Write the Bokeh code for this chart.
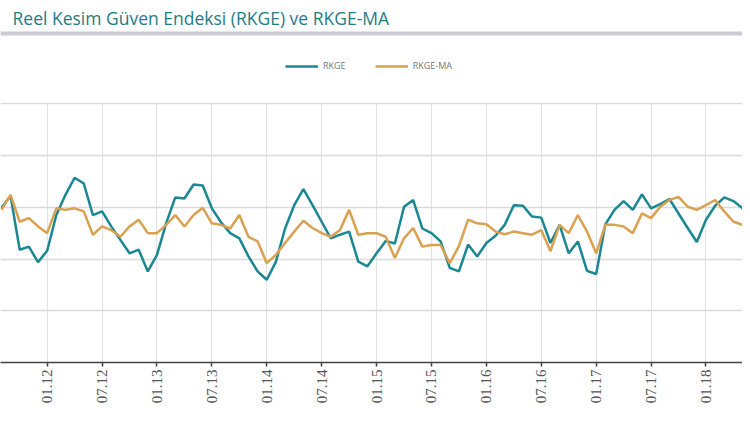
import math
import numpy as np
from bokeh.plotting import figure
from bokeh.models import Range1d, FixedTicker, Legend, LegendItem, Label, Span
from bokeh.layouts import column
from bokeh.embed import file_html
from bokeh.resources import INLINE

# ---- data ----
months = ["08.11", "09.11", "10.11", "11.11", "12.11",
          "01.12", "02.12", "03.12", "04.12", "05.12", "06.12", "07.12", "08.12", "09.12", "10.12", "11.12", "12.12",
          "01.13", "02.13", "03.13", "04.13", "05.13", "06.13", "07.13", "08.13", "09.13", "10.13", "11.13", "12.13",
          "01.14", "02.14", "03.14", "04.14", "05.14", "06.14", "07.14", "08.14", "09.14", "10.14", "11.14", "12.14",
          "01.15", "02.15", "03.15", "04.15", "05.15", "06.15", "07.15", "08.15", "09.15", "10.15", "11.15", "12.15",
          "01.16", "02.16", "03.16", "04.16", "05.16", "06.16", "07.16", "08.16", "09.16", "10.16", "11.16", "12.16",
          "01.17", "02.17", "03.17", "04.17", "05.17", "06.17", "07.17", "08.17", "09.17", "10.17", "11.17", "12.17",
          "01.18", "02.18", "03.18", "04.18", "05.18", "06.18"]

rkge = [109.9, 112.2, 101.8, 102.4, 99.4,
        101.6, 108.5, 112.4, 115.7, 114.6, 108.5, 109.2, 106.3, 103.7, 101.1, 101.8, 97.6,
        100.8, 106.9, 111.9, 111.7, 114.4, 114.2, 109.8, 107.1, 105.0, 104.0, 100.5, 97.6,
        96.0, 99.5, 105.9, 110.4, 113.5, 110.4, 107.2, 104.0, 104.7, 105.3, 99.5, 98.6,
        101.1, 103.5, 103.0, 110.1, 111.4, 105.9, 105.0, 103.4, 98.3, 97.6, 102.8, 100.5,
        103.1, 104.5, 106.6, 110.4, 110.3, 108.2, 108.0, 103.1, 106.6, 101.1, 103.4, 97.7,
        97.1, 106.7, 109.5, 111.2, 109.5, 112.5, 109.8, 110.6, 111.6, 108.8, 106.0, 103.3,
        107.6, 110.3, 111.9, 111.2, 109.8, 105.3]

rkge_ma = [109.5, 112.4, 107.2, 107.9, 106.3,
           105.0, 109.8, 109.5, 109.8, 109.2, 104.7, 106.3, 105.6, 104.3, 106.3, 107.6, 105.0,
           105.0, 106.6, 108.5, 106.3, 108.5, 109.9, 106.9, 106.6, 105.9, 108.5, 104.3, 103.4,
           99.2, 100.8, 103.1, 105.3, 107.4, 106.0, 105.0, 104.3, 105.6, 109.5, 104.7, 105.0,
           105.0, 104.3, 100.2, 104.0, 106.0, 102.4, 102.7, 102.7, 99.2, 102.5, 107.6, 106.9,
           106.7, 105.3, 104.8, 105.3, 105.0, 104.7, 105.6, 101.5, 106.6, 105.0, 108.5, 105.3,
           101.1, 106.6, 106.6, 106.3, 105.0, 108.8, 107.9, 110.1, 111.4, 112.0, 110.1, 109.5,
           110.4, 111.4, 109.2, 107.2, 106.6, 103.1]

tick_labels = ["01.12", "07.12", "01.13", "07.13", "01.14", "07.14", "01.15",
               "07.15", "01.16", "07.16", "01.17", "07.17", "01.18"]
y_grid_values = [90, 100, 110, 120, 130]
series_names = ["RKGE", "RKGE-MA"]
title_text = "Reel Kesim Güven Endeksi (RKGE) ve RKGE-MA"


def month_index(s):
    mm, yy = s.split(".")
    return (int(yy) - 12) * 12 + int(mm) - 1


x = [month_index(s) for s in months]
tick_x = [month_index(s) for s in tick_labels]

TEAL = "#1a8793"
ORANGE = "#d9a150"
W = 742
HEAD_H = 102
MAIN_H = 406 - HEAD_H

# ---------- header: title, rule and legend ----------
h = figure(width=W, height=HEAD_H, x_range=Range1d(0, W), y_range=Range1d(0, HEAD_H),
           x_axis_location=None, y_axis_location=None, toolbar_location=None,
           output_backend="svg", min_border=0)
h.outline_line_color = None
h.grid.visible = False
h.add_layout(Label(x=12, y=HEAD_H - 17.5, x_units="screen", y_units="screen",
                   text=title_text, text_font="Open Sans", text_font_size="17.5px",
                   text_color="#1f7c84", text_baseline="alphabetic"))
h.add_layout(Span(location=HEAD_H - 33, dimension="width", line_color="#c8ccd0", line_width=4))
nan = np.array([np.nan])
d1 = h.line(nan, nan, line_color=TEAL, line_width=2.5)
d2 = h.line(nan, nan, line_color=ORANGE, line_width=2.5)
legend = Legend(items=[LegendItem(label=series_names[0], renderers=[d1]),
                       LegendItem(label=series_names[1], renderers=[d2])],
                orientation="horizontal", location=(285, HEAD_H - 72),
                glyph_width=33, glyph_height=12, label_standoff=5, spacing=29,
                padding=0, margin=0, border_line_color=None, background_fill_alpha=0,
                label_text_font="Open Sans", label_text_font_size="9px",
                label_text_color="#777777", label_height=12)
h.add_layout(legend)

# ---------- main chart ----------
p = figure(width=W, height=MAIN_H,
           x_range=Range1d(-5.10, 75.99), y_range=Range1d(80, 130.25),
           y_axis_location=None, toolbar_location=None, output_backend="svg",
           min_border_left=0, min_border_right=0, min_border_top=0, min_border_bottom=43)
p.outline_line_color = None

p.line(x, rkge, line_color=TEAL, line_width=2.5)
p.line(x, rkge_ma, line_color=ORANGE, line_width=2.5)

ax = p.xaxis[0]
ax.ticker = FixedTicker(ticks=tick_x)
ax.major_label_overrides = {t: lab for t, lab in zip(tick_x, tick_labels)}
ax.major_label_orientation = math.pi / 2
ax.major_label_text_font = "Liberation Serif"
ax.major_label_text_font_size = "15px"
ax.major_label_text_color = "#555555"
ax.major_label_standoff = 3
ax.axis_line_color = "#444444"
ax.axis_line_width = 1.5
ax.major_tick_line_color = "#444444"
ax.major_tick_line_width = 1.5
ax.major_tick_out = 4
ax.major_tick_in = 0
ax.minor_tick_out = 0
ax.minor_tick_in = 0

p.xgrid.ticker = FixedTicker(ticks=tick_x)
p.xgrid.grid_line_color = "#e3e3e3"
p.xgrid.grid_line_width = 1.2
p.ygrid.ticker = FixedTicker(ticks=y_grid_values)
p.ygrid.grid_line_color = "#dadada"
p.ygrid.grid_line_width = 1.5

layout = column(h, p, spacing=0)
open("out.html", "w").write(file_html(layout, INLINE))
